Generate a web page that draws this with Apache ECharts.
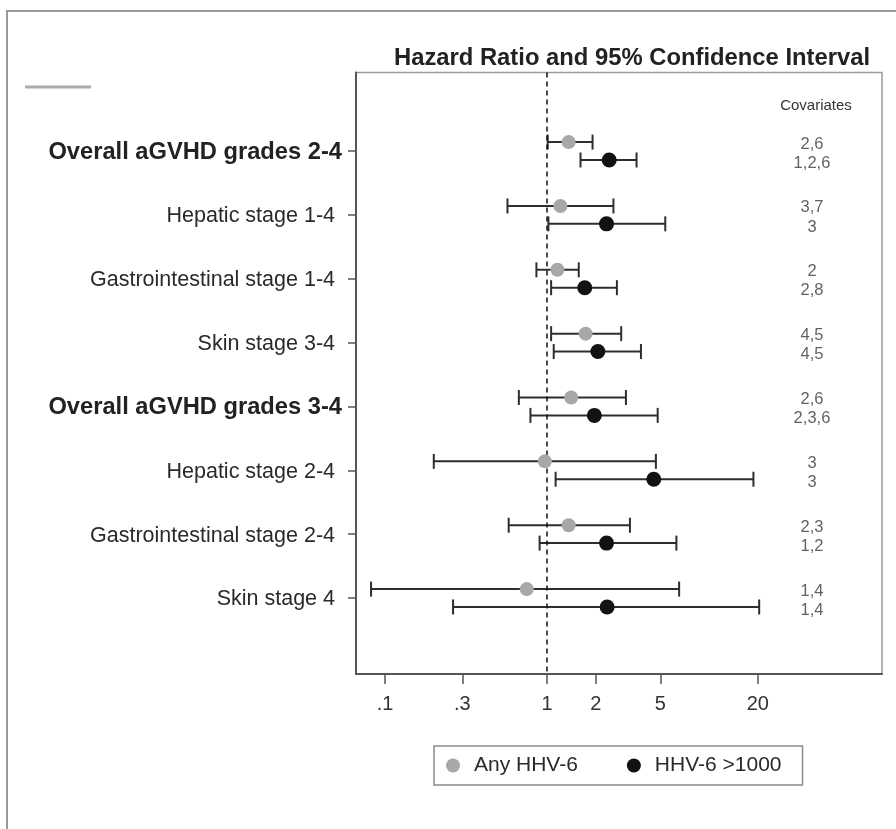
<!DOCTYPE html>
<html>
<head>
<meta charset="utf-8">
<script src="https://cdn.jsdelivr.net/npm/echarts@6/dist/echarts.min.js"></script>
<style>html,body{margin:0;padding:0;background:#fff}#c{width:896px;height:829px}</style>
</head>
<body>
<div id="c"></div>
<script>
// ---- data ----
var categories = ['Overall aGVHD grades 2-4','Hepatic stage 1-4','Gastrointestinal stage 1-4','Skin stage 3-4',
                  'Overall aGVHD grades 3-4','Hepatic stage 2-4','Gastrointestinal stage 2-4','Skin stage 4'];
var anyHR   = [1.36, 1.21, 1.16, 1.73, 1.41, 0.97, 1.36, 0.75];
var anyLo   = [1.01, 0.57, 0.86, 1.06, 0.67, 0.20, 0.58, 0.082];
var anyHi   = [1.91, 2.57, 1.57, 2.87, 3.07, 4.70, 3.25, 6.54];
var highHR  = [2.42, 2.33, 1.71, 2.06, 1.96, 4.56, 2.33, 2.35];
var highLo  = [1.61, 1.02, 1.06, 1.10, 0.79, 1.13, 0.90, 0.263];
var highHi  = [3.57, 5.37, 2.70, 3.80, 4.82, 18.8, 6.29, 20.4];
var anyCov  = ['2,6','3,7','2','4,5','2,6','3','2,3','1,4'];
var highCov = ['1,2,6','3','2,8','4,5','2,3,6','3','1,2','1,4'];
var xTicks  = [0.1, 0.3, 1, 2, 5, 20];
var seriesNames = ['Any HHV-6', 'HHV-6 >1000'];

// ---- layout constants ----
var OFF = 0.14, COVSHIFT = 0.04, COVOFF = 0.15, COVX = 43.2;
var FONT = '"Liberation Sans", Arial, Helvetica, sans-serif';

function errItem(params, api) {
  var lo = api.coord([api.value(0), api.value(2)]);
  var hi = api.coord([api.value(1), api.value(2)]);
  var h = 7.5;
  var st = {stroke: '#2e2e2e', lineWidth: 2};
  return {type: 'group', children: [
    {type: 'line', shape: {x1: lo[0], y1: lo[1], x2: hi[0], y2: hi[1]}, style: st},
    {type: 'line', shape: {x1: lo[0], y1: lo[1]-h, x2: lo[0], y2: lo[1]+h}, style: st},
    {type: 'line', shape: {x1: hi[0], y1: hi[1]-h, x2: hi[0], y2: hi[1]+h}, style: st}
  ]};
}

var rowIdx = categories.map(function (c, i) { return i; });

var chart = echarts.init(document.getElementById('c'), null, {renderer: 'canvas'});
var option = {
  animation: false,
  textStyle: {fontFamily: FONT},
  title: {
    text: 'Hazard Ratio and 95% Confidence Interval',
    left: 627, top: 41, textAlign: 'center',
    textStyle: {fontFamily: FONT, fontWeight: 'bold', fontSize: 23.8, color: '#222'}
  },
  legend: {
    data: seriesNames,
    left: 434, top: 746,
    padding: [9, 21, 9, 12],
    itemWidth: 32, itemHeight: 14, itemGap: 49,
    icon: 'circle',
    borderColor: '#8a8a8a', borderWidth: 1.5,
    textStyle: {fontFamily: FONT, fontSize: 21, color: '#2a2a2a'}
  },
  grid: {left: 356, top: 72.5, right: 14, bottom: 155, show: true, borderColor: '#9a9a9a', borderWidth: 1.5, containLabel: false},
  xAxis: {
    type: 'log', logBase: 10, min: 0.0662, max: 116.9,
    axisLine: {show: true, onZero: false, lineStyle: {color: '#555', width: 2}},
    axisTick: {show: true, length: 10, lineStyle: {color: '#555', width: 1.5}, customValues: xTicks},
    axisLabel: {customValues: xTicks, margin: 20, fontSize: 20, color: '#333', fontFamily: FONT,
      formatter: function (v) { var s = String(+v.toPrecision(6)); return s.charAt(0) === '0' ? s.slice(1) : s; }},
    splitLine: {show: false}, minorSplitLine: {show: false}
  },
  yAxis: {
    type: 'value', inverse: true, min: -1.23, max: 8.19,
    axisLine: {show: true, onZero: false, lineStyle: {color: '#555', width: 2}},
    axisTick: {show: true, length: 8, lineStyle: {color: '#555', width: 1.5}, customValues: rowIdx},
    axisLabel: {
      customValues: rowIdx,
      margin: 14,
      formatter: function (v) {
        var name = categories[Math.round(v)];
        if (name === undefined) return '';
        return name.indexOf('Overall') === 0 ? '{b|' + name + '}' : '{n|' + name + '}';
      },
      rich: {
        b: {fontFamily: FONT, fontWeight: 'bold', fontSize: 23.7, color: '#222', padding: [3, 0, 0, 0]},
        n: {fontFamily: FONT, fontSize: 21.5, color: '#2a2a2a', padding: [3, 7, 0, 0]}
      }
    },
    splitLine: {show: false}
  },
  graphic: [
    {type: 'rect', shape: {x: 7, y: 11, width: 900, height: 830}, style: {fill: 'none', stroke: '#9a9a9a', lineWidth: 2}, silent: true, z: -10},
    {type: 'line', shape: {x1: 25, y1: 87, x2: 91, y2: 87}, style: {stroke: '#ababab', lineWidth: 3}, silent: true},
    {type: 'text', x: 816, y: 106, style: {text: 'Covariates', fontFamily: FONT, fontSize: 15, fill: '#333', align: 'center', verticalAlign: 'middle'}, silent: true}
  ],
  series: [
    {type: 'custom', name: 'errAny', renderItem: errItem, encode: {x: [0, 1], y: 2}, z: 2, silent: true,
      data: rowIdx.map(function (i) { return [anyLo[i], anyHi[i], i - OFF]; })},
    {type: 'custom', name: 'errHigh', renderItem: errItem, encode: {x: [0, 1], y: 2}, z: 2, silent: true,
      data: rowIdx.map(function (i) { return [highLo[i], highHi[i], i + OFF]; })},
    {type: 'scatter', name: seriesNames[0], symbol: 'circle', symbolSize: 14, z: 5,
      itemStyle: {color: '#a8a8a8', opacity: 1},
      data: rowIdx.map(function (i) { return [anyHR[i], i - OFF]; }),
      markLine: {silent: true, symbol: 'none', label: {show: false},
        lineStyle: {color: '#111', type: [5, 4], width: 1.5},
        data: [{xAxis: 1}]}
    },
    {type: 'scatter', name: seriesNames[1], symbol: 'circle', symbolSize: 15, z: 5,
      itemStyle: {color: '#121212', opacity: 1},
      data: rowIdx.map(function (i) { return [highHR[i], i + OFF]; })},
    {type: 'scatter', name: 'covAny', symbolSize: 0, silent: true, z: 6,
      label: {show: true, position: 'inside', fontFamily: FONT, fontSize: 16.5, color: '#3a3a3a', formatter: function (p) { return p.data.name; }},
      data: rowIdx.map(function (i) { return {name: anyCov[i], value: [COVX, i + COVSHIFT - COVOFF]}; })},
    {type: 'scatter', name: 'covHigh', symbolSize: 0, silent: true, z: 6,
      label: {show: true, position: 'inside', fontFamily: FONT, fontSize: 16.5, color: '#3a3a3a', formatter: function (p) { return p.data.name; }},
      data: rowIdx.map(function (i) { return {name: highCov[i], value: [COVX, i + COVSHIFT + COVOFF]}; })}
  ]
};
chart.setOption(option);
</script>
</body>
</html>
